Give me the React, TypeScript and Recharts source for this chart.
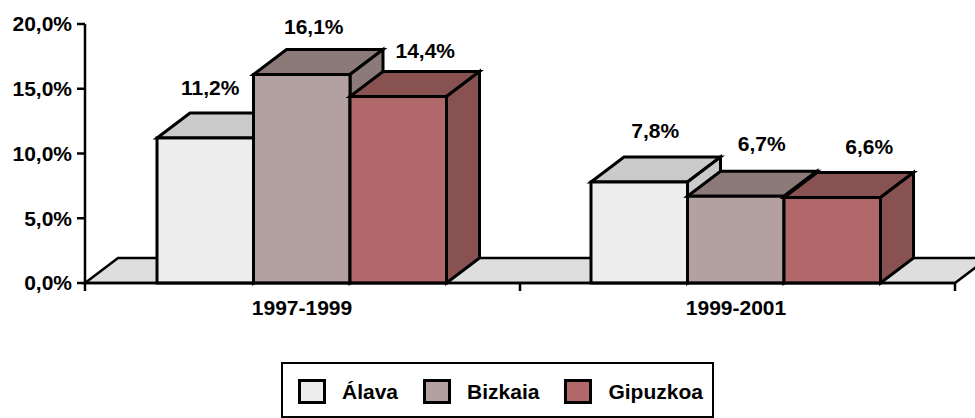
import { BarChart, Bar, XAxis, YAxis, LabelList, usePlotArea } from 'recharts';

const periods = ['1997-1999', '1999-2001'];
const alava = [11.2, 7.8];
const bizkaia = [16.1, 6.7];
const gipuzkoa = [14.4, 6.6];
const yTicks = [0, 5, 10, 15, 20];

const FONT = '"Liberation Sans", Arial, sans-serif';
const FONT_SIZE = 21;
const DEPTH_X = 33;
const DEPTH_Y = 25;

const series = [
  { key: 'alava', name: 'Álava', front: '#ededed', top: '#cacaca', side: '#cacaca', nudge: [[5, -50], [16, -51]] },
  { key: 'bizkaia', name: 'Bizkaia', front: '#b3a0a0', top: '#8c7a78', side: '#8c7a78', nudge: [[12, -48], [26, -53]] },
  { key: 'gipuzkoa', name: 'Gipuzkoa', front: '#b0686b', top: '#885252', side: '#885252', nudge: [[27, -46], [37, -51]] },
];

const data = periods.map((period, i) => ({
  period,
  alava: alava[i],
  bizkaia: bizkaia[i],
  gipuzkoa: gipuzkoa[i],
}));

const pct = (v: number) => `${v.toFixed(1).replace('.', ',')}%`;

// floor of the 3d plot + the category boundary ticks
function Floor() {
  const area = usePlotArea();
  if (!area) return null;
  const { x, y, width, height } = area;
  const bottom = y + height;
  const pts = [
    [x, bottom],
    [x + DEPTH_X, bottom - DEPTH_Y],
    [x + width + DEPTH_X, bottom - DEPTH_Y],
    [x + width, bottom],
  ];
  return (
    <g>
      <polygon points={pts.map((p) => p.join(',')).join(' ')} fill="#dedede" stroke="#000" strokeWidth={2.5} />
      {[0, 0.5, 1].map((f) => (
        <line key={f} x1={x + width * f} x2={x + width * f} y1={bottom} y2={bottom + 8} stroke="#000" strokeWidth={2.5} />
      ))}
    </g>
  );
}

function Box3D(props: any) {
  const { x, y, width, height, front, top, side } = props;
  const r = x + width;
  const b = y + height;
  const line = { stroke: '#000', strokeWidth: 3, strokeLinejoin: 'miter' as const };
  return (
    <g>
      <polygon
        points={`${x},${y} ${x + DEPTH_X},${y - DEPTH_Y} ${r + DEPTH_X},${y - DEPTH_Y} ${r},${y}`}
        fill={top}
        {...line}
      />
      <polygon
        points={`${r},${y} ${r + DEPTH_X},${y - DEPTH_Y} ${r + DEPTH_X},${b - DEPTH_Y} ${r},${b}`}
        fill={side}
        {...line}
      />
      <rect x={x} y={y} width={width} height={height} fill={front} {...line} />
    </g>
  );
}

function ValueLabel(props: any) {
  const { x, y, width, value, index, nudge } = props;
  return (
    <text
      x={x + width / 2 + nudge[index][0]}
      y={y + nudge[index][1]}
      textAnchor="middle"
      dominantBaseline="central"
      fontFamily={FONT}
      fontSize={FONT_SIZE}
      fontWeight="bold"
      fill="#000"
    >
      {pct(value)}
    </text>
  );
}

function Legend3D() {
  return (
    <div
      style={{
        position: 'absolute',
        left: 281,
        top: 362,
        width: 414,
        height: 49,
        border: '2px solid #000',
        display: 'flex',
        alignItems: 'center',
        paddingLeft: 15,
        paddingTop: 3,
        fontFamily: FONT,
        fontSize: FONT_SIZE,
        fontWeight: 'bold',
      }}
    >
      {series.map((s) => (
        <span key={s.key} style={{ display: 'flex', alignItems: 'center', marginRight: 25 }}>
          <span
            style={{
              width: 22,
              height: 19,
              background: s.front,
              border: '3px solid #000',
              marginRight: 16,
            }}
          />
          {s.name}
        </span>
      ))}
    </div>
  );
}

export default function App() {
  const tickStyle = { fontFamily: FONT, fontSize: FONT_SIZE, fontWeight: 'bold', fill: '#000' };
  return (
    <div style={{ position: 'absolute', left: 0, top: 0, width: 975, height: 418, overflow: 'hidden' }}>
      <BarChart
        width={975}
        height={418}
        data={data}
        margin={{ top: 24, right: 20, bottom: 95, left: 0 }}
        barSize={96.5}
        barGap={0}
      >
        <Floor />
        <YAxis
          domain={[0, 20]}
          ticks={yTicks}
          width={85}
          interval={0}
          tickFormatter={pct}
          tick={tickStyle}
          tickSize={8}
          tickMargin={5}
          axisLine={{ stroke: '#000', strokeWidth: 2.5 }}
          tickLine={{ stroke: '#000', strokeWidth: 2.5 }}
        />
        <XAxis
          dataKey="period"
          height={40}
          padding={{ right: 2 }}
          tick={tickStyle}
          tickLine={false}
          tickMargin={11}
          axisLine={{ stroke: '#000', strokeWidth: 2.5 }}
        />
        {series.map((s) => (
          <Bar
            key={s.key}
            dataKey={s.key}
            isAnimationActive={false}
            shape={(p: any) => <Box3D {...p} front={s.front} top={s.top} side={s.side} />}
          >
            <LabelList dataKey={s.key} content={(p: any) => <ValueLabel {...p} nudge={s.nudge} />} />
          </Bar>
        ))}
      </BarChart>
      <Legend3D />
    </div>
  );
}
